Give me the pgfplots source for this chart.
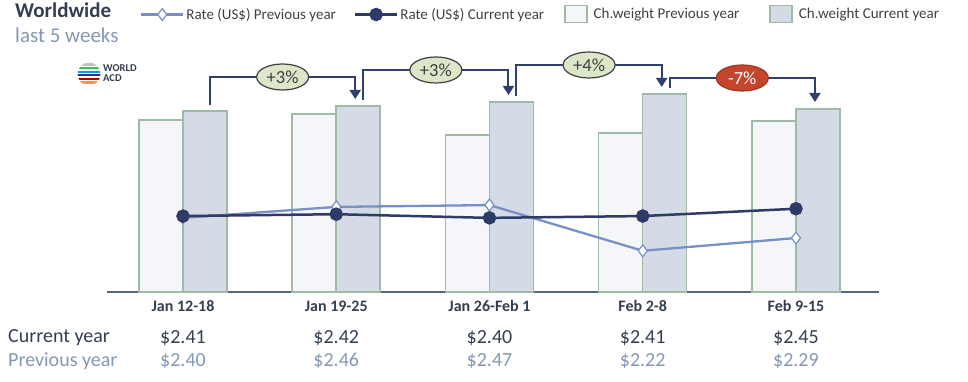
\documentclass[border=0pt]{standalone}
\usepackage{pgfplots}
\pgfplotsset{compat=1.18}
\usepackage{fontspec}
\setmainfont{Carlito}
\usetikzlibrary{arrows.meta,shapes.geometric}
\definecolor{titlec}{HTML}{333F50}
\definecolor{subc}{HTML}{8397B6}
\definecolor{prevline}{HTML}{7890C6}
\definecolor{currline}{HTML}{2E3B66}
\definecolor{barborder}{HTML}{A0BBA5}
\definecolor{prevfill}{HTML}{F5F6FA}
\definecolor{currfill}{HTML}{D5DBE6}
\definecolor{axisc}{HTML}{57667A}
\definecolor{connc}{HTML}{2F4070}
\definecolor{ellgreen}{HTML}{DCE6C9}
\definecolor{ellred}{HTML}{C4452B}
\definecolor{legc}{HTML}{404040}
\tikzset{valc/.style={font=\fontsize{20}{20}\selectfont, text=titlec},
         valp/.style={font=\fontsize{20}{20}\selectfont, text=subc},
         pct/.style={ellipse, draw=legc, line width=1.2pt, fill=ellgreen, minimum width=52pt, minimum height=26pt, inner sep=0pt, font=\fontsize{18.5}{18.5}\selectfont, text=legc},
         conn/.style={connc, line width=2pt, -{Triangle[width=11pt,length=9pt]}}}
\pgfplotsset{mylinelegend/.style={legend image code/.code={\draw[mark repeat=2,mark phase=2,##1] plot coordinates {(0pt,0pt) (21pt,0pt) (42pt,0pt)};}}}
\begin{document}
\begin{tikzpicture}
\useasboundingbox (0pt,0pt) rectangle (968pt,382pt);
% titles
\node[anchor=base west, inner sep=0pt, font=\bfseries\fontsize{21}{21}\selectfont, text=titlec] at (15pt,364pt) {Worldwide};
\node[anchor=base west, inner sep=0pt, font=\fontsize{21}{21}\selectfont, text=subc] at (15pt,339pt) {last 5 weeks};
% logo
\begin{scope}
\clip (89pt,308pt) circle (11.5pt);
\fill[gray!50] (76pt,316.4pt) rectangle (102pt,318.6pt);
\fill[green!50!gray] (76pt,312.8pt) rectangle (102pt,315pt);
\fill[blue!40!cyan] (76pt,309.2pt) rectangle (102pt,311.4pt);
\fill[currline] (76pt,305.6pt) rectangle (102pt,307.8pt);
\fill[red!70!black] (76pt,302pt) rectangle (102pt,304.2pt);
\fill[orange!80] (76pt,298.4pt) rectangle (102pt,300.6pt);
\end{scope}
\node[anchor=west, inner sep=0pt, align=left, font=\bfseries\fontsize{10.5}{9.5}\selectfont, text=titlec] at (103pt,309pt) {WORLD\\ACD};
% row labels
\node[anchor=west, inner sep=0pt, font=\fontsize{20}{20}\selectfont, text=titlec] at (8pt,44pt) {Current year};
\node[anchor=west, inner sep=0pt, font=\fontsize{20}{20}\selectfont, text=subc] at (8pt,21pt) {Previous year};

\begin{axis}[
  at={(107pt,90pt)}, anchor=south west,
  scale only axis, width=772pt, height=240pt,
  xmin=-0.496, xmax=4.542, ymin=0, ymax=240,
  axis x line=bottom, axis y line=none,
  x axis line style={-, draw=axisc, line width=2pt},
  ytick=\empty,
  xtick={0,1,2,3,4},
  xticklabels={Jan 12-18, Jan 19-25, Jan 26-Feb 1, Feb 2-8, Feb 9-15},
  major tick length=0pt,
  xticklabel style={anchor=base, yshift=-20pt, font=\bfseries\fontsize{16}{16}\selectfont, text=titlec},
  ybar=0pt, bar width=44pt,
  clip=false,
]
\addplot[fill=prevfill, draw=barborder, line width=1.5pt] coordinates {(0,172) (1,178) (2,157) (3,159) (4,171)};
\addplot[fill=currfill, draw=barborder, line width=1.5pt] coordinates {(0,181) (1,186) (2,190) (3,198) (4,183)};
% connectors
\draw[conn] (axis cs:0.176,187) |- (axis cs:1.124,215) -- (axis cs:1.124,193);
\draw[conn] (axis cs:1.176,192) |- (axis cs:2.124,222) -- (axis cs:2.124,197);
\draw[conn] (axis cs:2.176,196) |- (axis cs:3.124,227) -- (axis cs:3.124,205);
\draw[conn] (axis cs:3.176,204) |- (axis cs:4.124,214) -- (axis cs:4.124,190);
\node[pct] at (axis cs:0.65,215) {+3\%};
\node[pct] at (axis cs:1.65,222) {+3\%};
\node[pct] at (axis cs:2.65,227) {+4\%};
\node[pct, draw=ellred!80!black, fill=ellred, text=white] at (axis cs:3.65,214) {-7\%};
% value rows
\node[valc] at (axis cs:0,-46) {\$2.41};
\node[valc] at (axis cs:1,-46) {\$2.42};
\node[valc] at (axis cs:2,-46) {\$2.40};
\node[valc] at (axis cs:3,-46) {\$2.41};
\node[valc] at (axis cs:4,-46) {\$2.45};
\node[valp] at (axis cs:0,-69) {\$2.40};
\node[valp] at (axis cs:1,-69) {\$2.46};
\node[valp] at (axis cs:2,-69) {\$2.47};
\node[valp] at (axis cs:3,-69) {\$2.22};
\node[valp] at (axis cs:4,-69) {\$2.29};
\end{axis}

\begin{axis}[
  at={(107pt,90pt)}, anchor=south west,
  scale only axis, width=772pt, height=240pt,
  xmin=-0.496, xmax=4.542, ymin=1.995, ymax=3.3065,
  hide axis, clip=false,
  legend columns=4,
  legend style={at={(0.0427,1.1583)}, anchor=west, draw=none, fill=none, inner sep=0pt,
    font=\fontsize{15}{15}\selectfont, text=legc,
    /tikz/every even column/.append style={column sep=16pt}},
  legend cell align=left,
]
\addplot[prevline, line width=2.3pt, mark=diamond*, mark size=6pt, mark options={fill=white, draw=prevline, line width=1.2pt}, mylinelegend]
  coordinates {(0,2.40) (1,2.46) (2,2.47) (3,2.22) (4,2.29)};
\addlegendentry{Rate (US\$) Previous year}
\addplot[currline, line width=2.5pt, mark=*, mark size=5.5pt, mylinelegend]
  coordinates {(0,2.41) (1,2.42) (2,2.40) (3,2.41) (4,2.45)};
\addlegendentry{Rate (US\$) Current year\rule{2pt}{0pt}}
\addlegendimage{legend image code/.code={\draw[fill=prevfill, draw=barborder, line width=1.5pt] (0pt,-8pt) rectangle (22pt,9pt);}}
\addlegendentry{\hspace{4pt}Ch.weight Previous year\rule{12pt}{0pt}}
\addlegendimage{legend image code/.code={\draw[fill=currfill, draw=barborder, line width=1.5pt] (0pt,-8pt) rectangle (22pt,9pt);}}
\addlegendentry{\hspace{4pt}Ch.weight Current year}
\end{axis}
\end{tikzpicture}
\end{document}
